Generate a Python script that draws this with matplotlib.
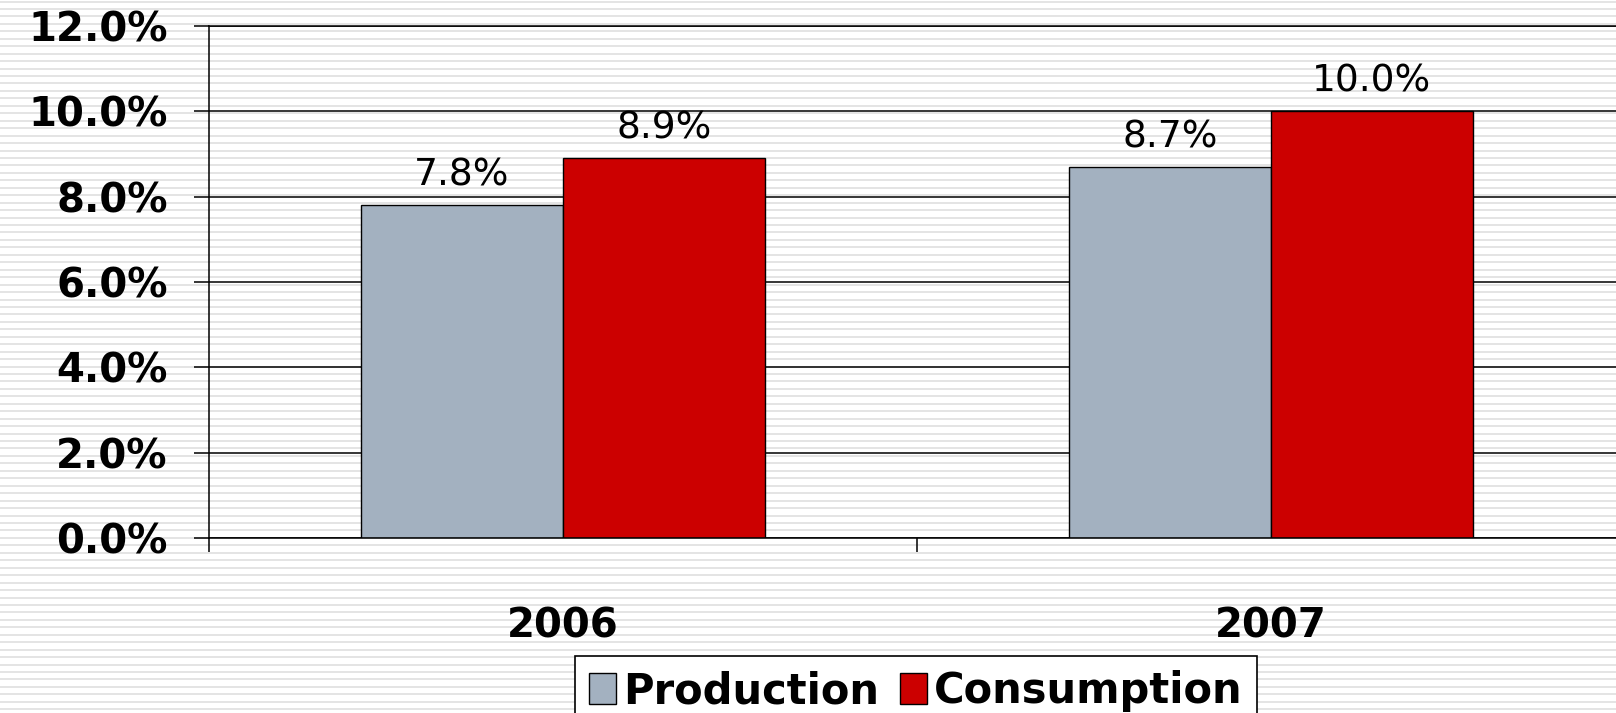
import matplotlib
matplotlib.use("Agg")
import matplotlib.pyplot as plt
import numpy as np

years = ["2006", "2007"]
production = [7.8, 8.7]
consumption = [8.9, 10.0]
series_names = ["Production", "Consumption"]
y_ticks = [0, 2, 4, 6, 8, 10, 12]

gray = "#a3b1c0"
red = "#cc0000"

plt.rcParams['font.family'] = ['DejaVu Sans']

fig = plt.figure(figsize=(16.16, 7.13), dpi=100)
fig.patch.set_facecolor("white")

# striped slide background
bg = fig.add_axes([0, 0, 1, 1], zorder=-5)
bg.set_xlim(0, 1)
bg.set_ylim(713, 0)
bg.axis("off")
stripes = np.arange(1.5, 713, 7.45)
bg.hlines(stripes, 0, 1, color="#e2e2e2", linewidth=1.3)

ax = fig.add_axes([209 / 1616, 175 / 713, 1416 / 1616, 512 / 713])
ax.patch.set_alpha(0)

x = np.arange(len(years))
w = 0.285
b1 = ax.bar(x - w / 2, production, w, color=gray, edgecolor="black", linewidth=1, label=series_names[0])
b2 = ax.bar(x + w / 2, consumption, w, color=red, edgecolor="black", linewidth=1, label=series_names[1])

for bars, vals in ((b1, production), (b2, consumption)):
    for r, v in zip(bars, vals):
        ax.annotate("%.1f%%" % v, (r.get_x() + r.get_width() / 2, v),
                    xytext=(0, 14), textcoords="offset points",
                    ha="center", va="baseline", fontsize=27)

ax.set_xlim(-0.5, 1.5)
ax.set_ylim(0, 12)
ax.set_yticks(y_ticks)
ax.set_yticklabels(["%.1f%%" % t for t in y_ticks], fontsize=29, fontweight="bold")
ax.set_xticks(x)
ax.set_xticklabels(years, fontsize=29, fontweight="bold")
ax.set_xticks([-0.5, 0.5, 1.5], minor=True)
ax.tick_params(axis="x", which="major", length=0, pad=49)
ax.tick_params(axis="x", which="minor", length=10, width=1.1, direction="out")
ax.tick_params(axis="y", length=10.8, width=1.1, direction="out", pad=19)

ax.set_axisbelow(True)
ax.yaxis.grid(True, color="black", linewidth=1.1)
ax.spines["right"].set_visible(False)
for s in ("left", "bottom", "top"):
    ax.spines[s].set_linewidth(1.1)

leg = fig.legend(loc="upper center", bbox_to_anchor=(916 / 1616, 1 - 656 / 713),
                 ncol=2, frameon=True, fancybox=False, framealpha=1,
                 prop={"size": 30, "weight": "bold"},
                 handlelength=0.65, handleheight=0.77, handletextpad=0.17,
                 columnspacing=0.5, borderpad=0.34, borderaxespad=0)
leg.get_frame().set_edgecolor("black")
leg.get_frame().set_linewidth(1.2)

fig.savefig("out.png", dpi=100)
